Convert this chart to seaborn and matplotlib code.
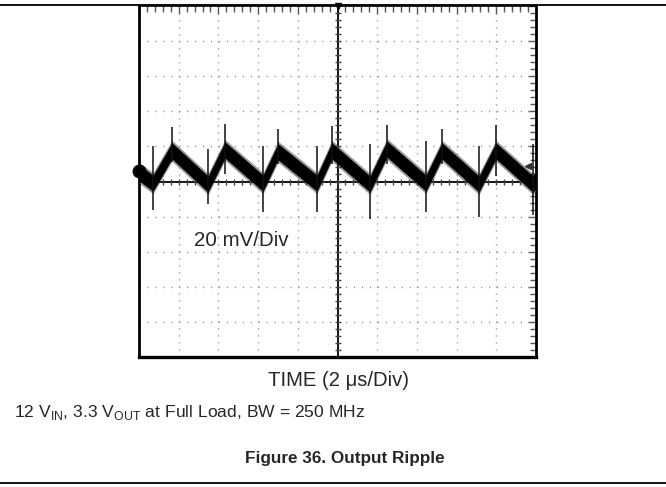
import numpy as np
import pandas as pd
import seaborn as sns
import matplotlib.pyplot as plt
from matplotlib.lines import Line2D
from matplotlib.ticker import MultipleLocator

# Ripple trace (time in us, level in mV)
trace_t = [0.0, 0.71, 1.66, 3.48, 4.33, 6.25, 7.00, 8.97, 9.72, 11.64,
           12.49, 14.46, 15.26, 17.13, 17.98, 19.85, 20.0]
trace_mv = [5.0, -1.0, 17.5, -1.5, 18.0, -1.0, 17.0, -1.0, 17.5, -1.5,
            18.5, -1.0, 17.5, -1.5, 17.5, -1.5, 1.0]

# switching spikes: turn-on (at the valleys) and turn-off (at the peaks)
on_t = [0.71, 3.48, 6.25, 8.97, 11.64, 14.46, 17.13, 19.85]
on_hi = [20.0, 18.3, 20.0, 20.0, 21.1, 22.9, 20.0, 21.1]
on_lo = [-16.0, -13.1, -17.1, -17.1, -21.1, -17.1, -20.0, -18.9]
off_t = [1.66, 4.33, 7.00, 9.72, 12.49, 15.26, 17.98]
off_hi = [30.9, 32.6, 29.7, 31.4, 32.0, 29.7, 32.0]
off_lo = [10.9, 4.0, 9.7, 9.7, 9.7, 9.7, 2.9]

ground_t, ground_mv = [0.0], [5.7]
trig_t, trig_mv = [10.0], [100.0]
level_t, level_mv = [19.6], [8.6]

sns.set_style("white")
plt.rcParams['font.family'] = ['Liberation Sans', 'DejaVu Sans']
plt.rcParams['mathtext.fontset'] = 'custom'
plt.rcParams['mathtext.rm'] = 'Liberation Sans'
plt.rcParams['lines.scale_dashes'] = False

fig = plt.figure(figsize=(6.66, 4.87), dpi=100)
ax = fig.add_axes([139 / 666, 1 - 357 / 487, 397 / 666, 351 / 487])
ax.set_xlim(0, 20)
ax.set_ylim(-100, 100)

# dotted graticule
for gx in np.arange(2, 20, 2):
    if gx != 10:
        ax.axvline(gx, color='#8a8a8a', lw=1.0, ls=(0, (0.8, 4.24)), zorder=1)
for gy in np.arange(-80, 100, 20):
    if gy != 0:
        ax.axhline(gy, color='#8a8a8a', lw=1.0, ls=(0, (0.8, 4.92)), zorder=1)

# center crosshair with its small ticks
ax.axvline(10, color='black', lw=1.3, zorder=2)
ax.axhline(0, color='black', lw=1.3, zorder=2)
ax.plot(np.full(49, 10.0), np.arange(-96, 97, 4), ls='none', marker='_',
        ms=5, mew=1.0, color='#444444', zorder=2)
ax.plot(np.arange(0.4, 20, 0.4), np.zeros(49), ls='none', marker='|',
        ms=5, mew=1.0, color='#444444', zorder=2)

# noisy band of the trace
df = pd.DataFrame({'t': trace_t, 'mv': trace_mv})
lo = df['mv'] - 4.6
hi = df['mv'] + 4.6
ax.fill_between(df['t'], lo - 1.4, hi + 1.4, color='#444444', lw=0, alpha=0.55, zorder=3)
ax.fill_between(df['t'], lo, hi, color='black', lw=0, zorder=4)
sns.lineplot(data=df, x='t', y='mv', color='black', lw=2, ax=ax, zorder=5)

ax.vlines(on_t, on_lo, on_hi, color='#111111', lw=1.1, zorder=5)
ax.vlines(off_t, off_lo, off_hi, color='#111111', lw=1.1, zorder=5)

ax.plot(ground_t, ground_mv, 'o', color='black', ms=9, clip_on=False, zorder=6)
ax.plot(trig_t, trig_mv, 'v', color='black', ms=5, clip_on=False, zorder=6)
ax.plot(level_t, level_mv, '<', color='#333333', ms=4, zorder=6)

# frame ticks
ax.xaxis.set_major_locator(MultipleLocator(2))
ax.xaxis.set_minor_locator(MultipleLocator(0.4))
ax.yaxis.set_major_locator(MultipleLocator(20))
ax.yaxis.set_minor_locator(MultipleLocator(4))
ax.tick_params(which='both', direction='in', top=True, right=True,
               labelbottom=False, labelleft=False, color='#555555')
ax.tick_params(which='major', length=6, width=1.0)
ax.tick_params(which='minor', length=4, width=1.0)
ax.set_xlabel('')
ax.set_ylabel('')
for side, lw in [('left', 2.0), ('right', 2.0), ('top', 1.2), ('bottom', 2.4)]:
    ax.spines[side].set_visible(True)
    ax.spines[side].set_linewidth(lw)
    ax.spines[side].set_color('black')

ax.text(2.75, -33.7, '20 mV/Div', fontsize=14.8, va='center', ha='left', zorder=7)

fig.text(338 / 666, 1 - 381 / 487, 'TIME (2 μs/Div)', fontsize=14.6,
         ha='center', va='center')
fig.text(14 / 666, 1 - 412 / 487,
         r'12 V$_{\mathrm{IN}}$, 3.3 V$_{\mathrm{OUT}}$ at Full Load, BW = 250 MHz',
         fontsize=12.6, ha='left', va='center')
fig.text(345 / 666, 1 - 458 / 487, 'Figure 36. Output Ripple', fontsize=12.3,
         fontweight='bold', ha='center', va='center')

fig.add_artist(Line2D([0, 1], [1 - 5 / 487, 1 - 5 / 487], color='black', lw=1.3))
fig.add_artist(Line2D([0, 1], [1 - 483 / 487, 1 - 483 / 487], color='black', lw=1.3))

fig.savefig('out.png', dpi=100)
